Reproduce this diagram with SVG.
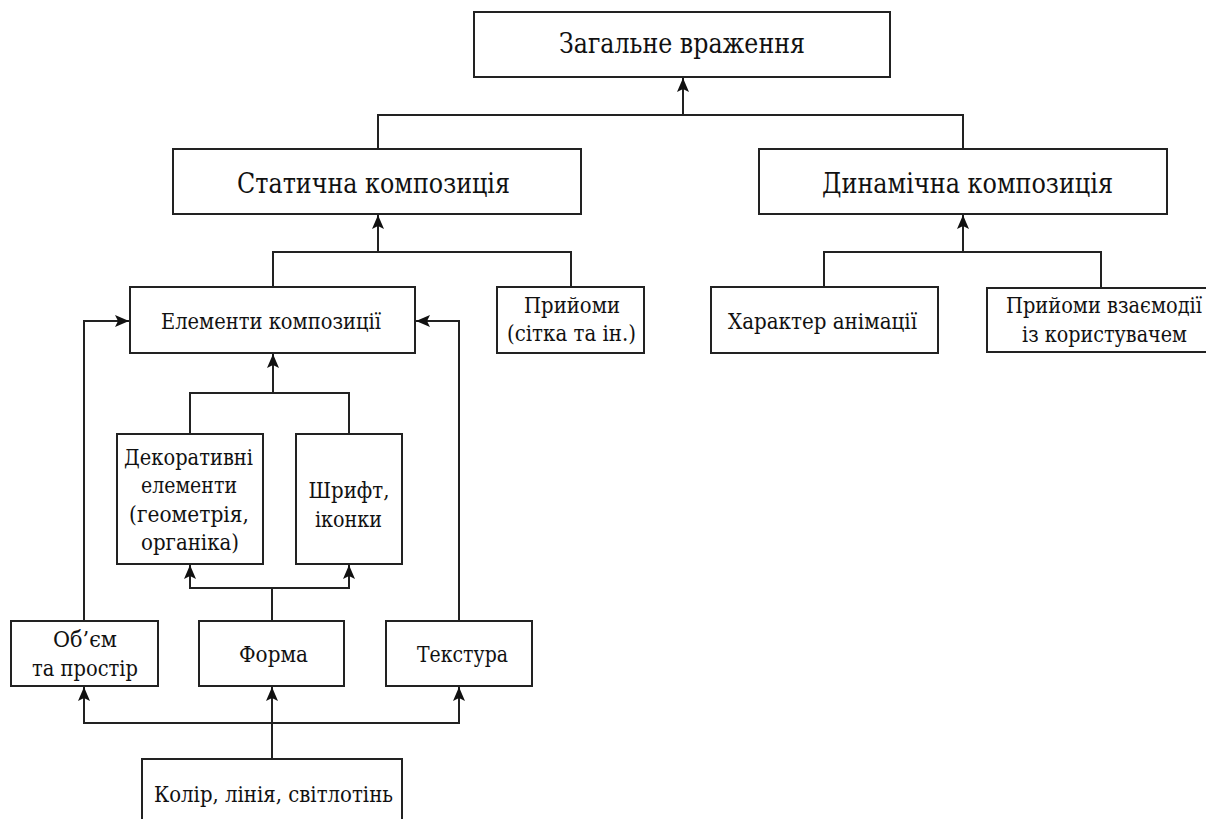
<svg xmlns="http://www.w3.org/2000/svg" width="1206" height="819" viewBox="0 0 1206 819">
<style>
.box{fill:#fff;stroke:#222;stroke-width:2}
.ln{fill:none;stroke:#222;stroke-width:2}
text{font-family:'DejaVu Serif','Liberation Serif',serif;fill:#111;text-anchor:middle}
.t1{font-size:27px}
.t2{font-size:23px}
</style>
<defs>
<marker id="arr" markerUnits="userSpaceOnUse" markerWidth="15" markerHeight="13" refX="14" refY="6" orient="auto">
<path d="M0,0 L14,6 L0,12 L3,6 z" fill="#111"/>
</marker>
</defs>
<rect width="1206" height="819" fill="#fff"/>
<g id="connectors">
<path class="ln" d="M378,149 V115 H963 V149"/>
<path class="ln" d="M683,115 V78" marker-end="url(#arr)"/>
<path class="ln" d="M273,287 V252 H571 V287"/>
<path class="ln" d="M378,252 V215" marker-end="url(#arr)"/>
<path class="ln" d="M824,287 V252 H1101 V287"/>
<path class="ln" d="M963,252 V215" marker-end="url(#arr)"/>
<path class="ln" d="M190,434 V393 H349 V434"/>
<path class="ln" d="M273,393 V354" marker-end="url(#arr)"/>
<path class="ln" d="M272,621 V588 H190 V565" marker-end="url(#arr)"/>
<path class="ln" d="M272,588 H349 V565" marker-end="url(#arr)"/>
<path class="ln" d="M84,621 V321 H129" marker-end="url(#arr)"/>
<path class="ln" d="M459,621 V321 H416" marker-end="url(#arr)"/>
<path class="ln" d="M272,759 V723 H84 V687" marker-end="url(#arr)"/>
<path class="ln" d="M272,723 H459 V687" marker-end="url(#arr)"/>
<path class="ln" d="M272,723 V687" marker-end="url(#arr)"/>
</g>
<g id="n-zagalne"><rect class="box" x="474" y="12" width="416" height="65"/><text class="t1" x="682" y="53" textLength="246" lengthAdjust="spacingAndGlyphs">Загальне враження</text></g>
<g id="n-statychna"><rect class="box" x="173" y="149" width="408" height="65"/><text class="t1" x="373.5" y="193" textLength="273" lengthAdjust="spacingAndGlyphs">Статична композиція</text></g>
<g id="n-dynamichna"><rect class="box" x="759" y="149" width="408" height="65"/><text class="t1" x="967.5" y="193" textLength="291" lengthAdjust="spacingAndGlyphs">Динамічна композиція</text></g>
<g id="n-elementy"><rect class="box" x="130" y="287" width="285" height="66"/><text class="t2" x="271" y="329" textLength="220" lengthAdjust="spacingAndGlyphs">Елементи композиції</text></g>
<g id="n-pryiomy"><rect class="box" x="497" y="287" width="147" height="66"/><text class="t2" x="572" y="313" textLength="96" lengthAdjust="spacingAndGlyphs">Прийоми</text><text class="t2" x="571.5" y="341" textLength="129" lengthAdjust="spacingAndGlyphs">(сітка та ін.)</text></g>
<g id="n-kharakter"><rect class="box" x="711" y="287" width="227" height="66"/><text class="t2" x="822.5" y="329" textLength="189" lengthAdjust="spacingAndGlyphs">Характер анімації</text></g>
<g id="n-vzaiemodii"><rect class="box" x="987" y="288" width="220" height="64"/><text class="t2" x="1104" y="313" textLength="196" lengthAdjust="spacingAndGlyphs">Прийоми взаємодії</text><text class="t2" x="1104.5" y="342" textLength="165" lengthAdjust="spacingAndGlyphs">із користувачем</text></g>
<g id="n-dekor"><rect class="box" x="117" y="434" width="146" height="130"/><text class="t2" x="188.5" y="465" textLength="129" lengthAdjust="spacingAndGlyphs">Декоративні</text><text class="t2" x="189" y="493" textLength="96" lengthAdjust="spacingAndGlyphs">елементи</text><text class="t2" x="189" y="522" textLength="120" lengthAdjust="spacingAndGlyphs">(геометрія,</text><text class="t2" x="190" y="550" textLength="98" lengthAdjust="spacingAndGlyphs">органіка)</text></g>
<g id="n-shryft"><rect class="box" x="296" y="434" width="106" height="130"/><text class="t2" x="349" y="498" textLength="81" lengthAdjust="spacingAndGlyphs">Шрифт,</text><text class="t2" x="348.5" y="527" textLength="67" lengthAdjust="spacingAndGlyphs">іконки</text></g>
<g id="n-obiem"><rect class="box" x="11" y="621" width="147" height="65"/><text class="t2" x="85" y="647" textLength="64" lengthAdjust="spacingAndGlyphs">Об’єм</text><text class="t2" x="85" y="676" textLength="106" lengthAdjust="spacingAndGlyphs">та простір</text></g>
<g id="n-forma"><rect class="box" x="199" y="621" width="145" height="65"/><text class="t2" x="273.5" y="662" textLength="69" lengthAdjust="spacingAndGlyphs">Форма</text></g>
<g id="n-tekstura"><rect class="box" x="386" y="621" width="146" height="65"/><text class="t2" x="462.5" y="662" textLength="91" lengthAdjust="spacingAndGlyphs">Текстура</text></g>
<g id="n-kolir"><rect class="box" x="142" y="759" width="260" height="80"/><text class="t2" x="273.5" y="802" textLength="239" lengthAdjust="spacingAndGlyphs">Колір, лінія, світлотінь</text></g>
</svg>
